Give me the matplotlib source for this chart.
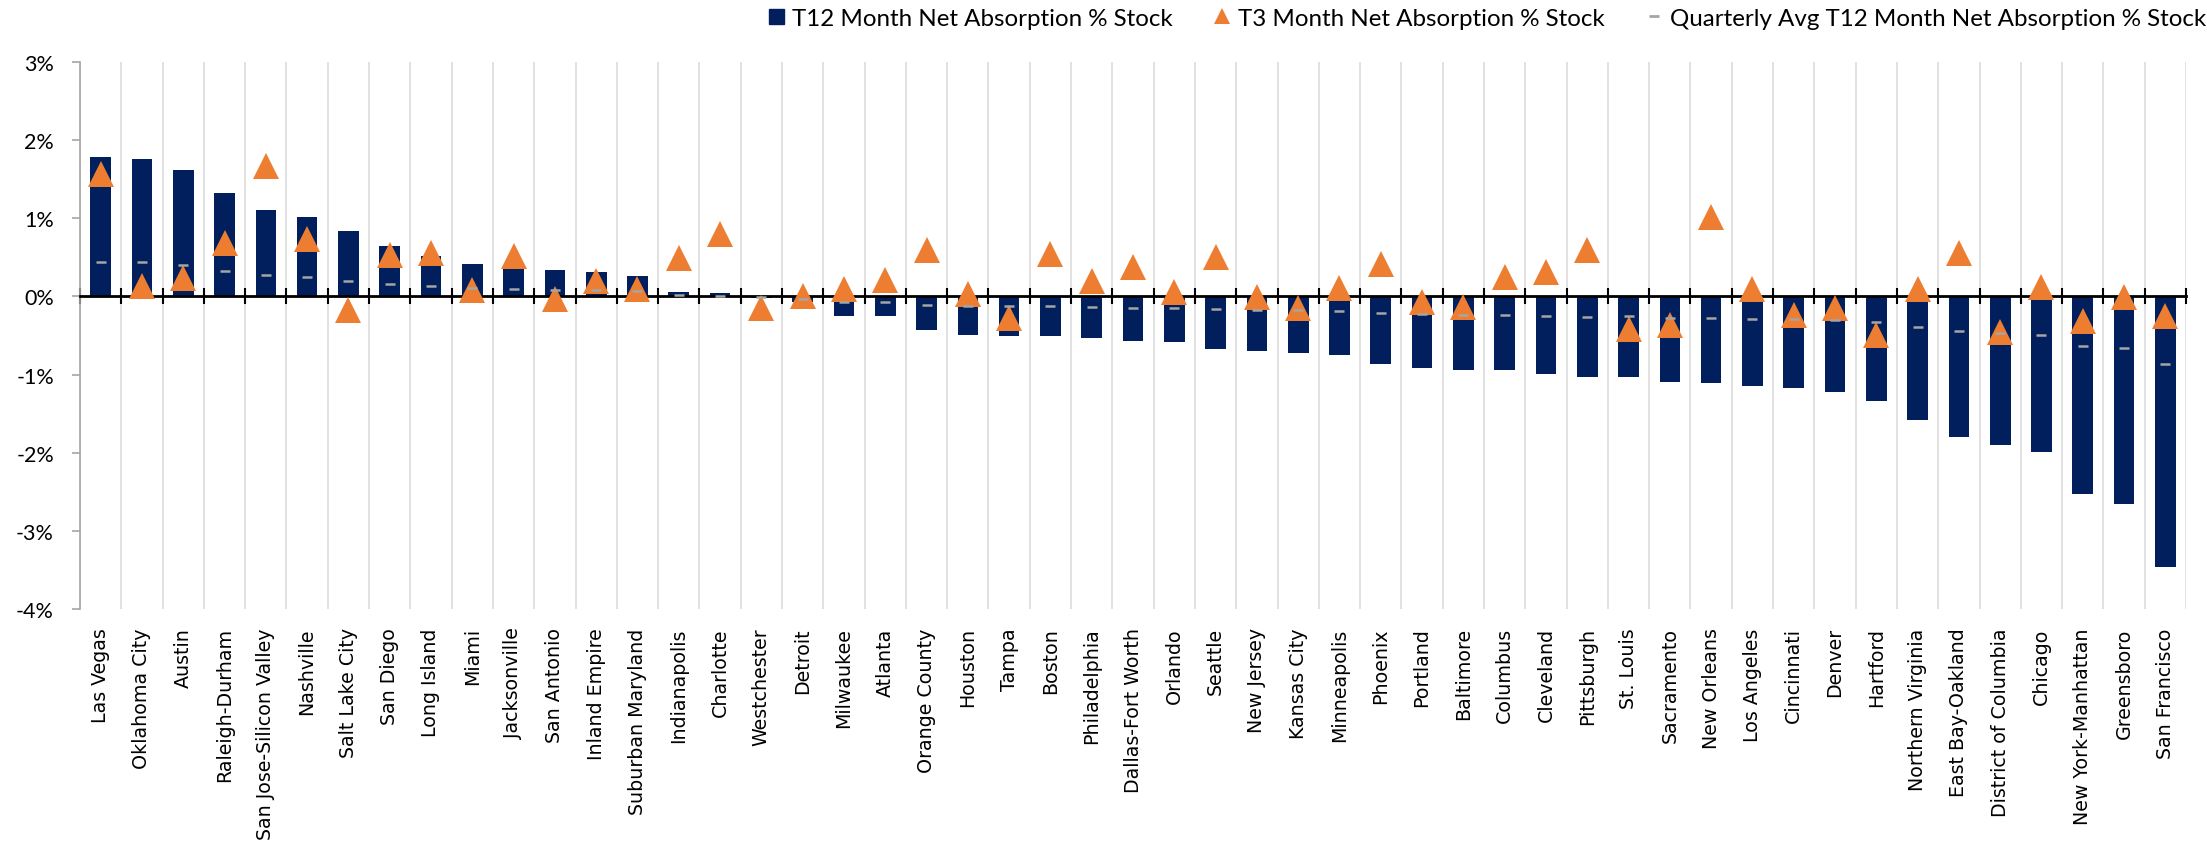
import matplotlib
matplotlib.use("Agg")
import matplotlib.pyplot as plt
from matplotlib.lines import Line2D
import numpy as np

plt.rcParams['axes.unicode_minus'] = False

cities = ["Las Vegas", "Oklahoma City", "Austin", "Raleigh-Durham", "San Jose-Silicon Valley",
          "Nashville", "Salt Lake City", "San Diego", "Long Island", "Miami", "Jacksonville",
          "San Antonio", "Inland Empire", "Suburban Maryland", "Indianapolis", "Charlotte",
          "Westchester", "Detroit", "Milwaukee", "Atlanta", "Orange County", "Houston", "Tampa",
          "Boston", "Philadelphia", "Dallas-Fort Worth", "Orlando", "Seattle", "New Jersey",
          "Kansas City", "Minneapolis", "Phoenix", "Portland", "Baltimore", "Columbus",
          "Cleveland", "Pittsburgh", "St. Louis", "Sacramento", "New Orleans", "Los Angeles",
          "Cincinnati", "Denver", "Hartford", "Northern Virginia", "East Bay-Oakland",
          "District of Columbia", "Chicago", "New York-Manhattan", "Greensboro", "San Francisco"]

t12_pct = [1.78, 1.75, 1.61, 1.32, 1.11, 1.02, 0.84, 0.64, 0.51, 0.41, 0.36,
           0.34, 0.31, 0.26, 0.06, 0.04, -0.015, -0.07, -0.25, -0.255, -0.435,
           -0.50, -0.505, -0.505, -0.527, -0.573, -0.58, -0.67, -0.696, -0.718, -0.756,
           -0.87, -0.913, -0.943, -0.945, -0.99, -1.025, -1.03, -1.096, -1.108, -1.15,
           -1.176, -1.22, -1.34, -1.58, -1.797, -1.898, -1.99, -2.53, -2.655, -3.46]

t3_pct = [1.56, 0.13, 0.24, 0.68, 1.67, 0.73, -0.17, 0.53, 0.55, 0.085, 0.52,
          -0.035, 0.20, 0.095, 0.49, 0.80, -0.155, 0.0, 0.10, 0.21, 0.59,
          0.03, -0.28, 0.54, 0.20, 0.376, 0.05, 0.50, -0.01, -0.149, 0.11,
          0.41, -0.072, -0.136, 0.25, 0.31, 0.59, -0.42, -0.37, 1.01, 0.09,
          -0.24, -0.15, -0.49, 0.09, 0.56, -0.45, 0.115, -0.31, -0.01, -0.255]

qavg_pct = [0.44, 0.433, 0.40, 0.33, 0.27, 0.25, 0.20, 0.16, 0.13, 0.105, 0.093,
            0.085, 0.08, 0.066, 0.013, 0.007, -0.003, -0.04, -0.066, -0.066, -0.11,
            -0.126, -0.124, -0.124, -0.136, -0.149, -0.149, -0.166, -0.174, -0.178, -0.19,
            -0.21, -0.225, -0.238, -0.238, -0.25, -0.259, -0.255, -0.276, -0.276, -0.289,
            -0.293, -0.306, -0.331, -0.395, -0.446, -0.471, -0.50, -0.633, -0.662, -0.862]

y_ticks = [-4, -3, -2, -1, 0, 1, 2, 3]
y_tick_labels = ["-4%", "-3%", "-2%", "-1%", "0%", "1%", "2%", "3%"]

series_names = ["T12 Month Net Absorption % Stock",
                "T3 Month Net Absorption % Stock",
                "Quarterly Avg T12 Month Net Absorption % Stock"]

NAVY = "#001F5C"
ORANGE = "#ED7D31"
GRAY = "#A5A5A5"

W, H, DPI = 2207, 853, 100
fig = plt.figure(figsize=(W / DPI, H / DPI), dpi=DPI)
ax = fig.add_axes([80 / W, 1 - 610.2 / H, (2186 - 80) / W, (610.2 - 62.7) / H])

x = np.arange(len(cities))
ax.bar(x, t12_pct, width=0.5, color=NAVY, zorder=1)
ax.plot(x, t3_pct, linestyle="none", marker="^", ms=18.7, color=ORANGE,
        markeredgewidth=0, zorder=3)
ax.plot(x, qavg_pct, linestyle="none", marker="_", ms=6.8, mew=1.8, color=GRAY, zorder=4)

ax.set_xlim(-0.5, len(cities) - 0.5)
ax.set_ylim(-4, 3)

# category boundaries: gridlines + ticks on zero line
bounds = np.arange(len(cities) + 1) - 0.5
ax.set_xticks(bounds)
ax.tick_params(axis="x", which="major", direction="inout", length=11, width=1.5,
               color="black", labelbottom=False)
ax.xaxis.grid(True, color="#D9D9D9", linewidth=1.1, zorder=0)
ax.set_axisbelow(True)
ax.spines["bottom"].set_position(("data", 0))
ax.spines["bottom"].set_linewidth(2.0)
ax.spines["bottom"].set_color("black")
ax.spines["bottom"].set_zorder(2.5)
ax.spines["top"].set_visible(False)
ax.spines["right"].set_visible(False)
ax.spines["left"].set_color("#A6A6A6")
ax.spines["left"].set_linewidth(1.2)

ax.set_yticks(y_ticks)
ax.set_yticklabels(y_tick_labels, fontfamily="Lato", fontsize=15.5)
ax.tick_params(axis="y", direction="out", length=5.8, width=1.2, color="#A6A6A6", pad=13)

# category labels at bottom
sec = ax.secondary_xaxis("bottom")
sec.set_xticks(x)
sec.set_xticklabels(cities, rotation=90, fontfamily="DejaVu Sans", fontsize=13.7,
                    va="top", ha="center")
sec.tick_params(length=0, pad=13)
sec.spines["bottom"].set_visible(False)

# legend
handles = [Line2D([], [], linestyle="none", marker="s", ms=10.8, color=NAVY),
           Line2D([], [], linestyle="none", marker="^", ms=12, color=ORANGE, mew=0),
           Line2D([], [], linestyle="none", marker="_", ms=7, mew=2, color=GRAY)]
fig.legend(handles, series_names, loc="center right", bbox_to_anchor=(2206 / W, 1 - 19 / H),
           ncol=3, frameon=False, prop={"family": "Lato", "size": 17.4},
           handlelength=0.7, handletextpad=0.3, columnspacing=1.7, borderpad=0,
           borderaxespad=0)

fig.savefig("out.png", dpi=DPI)
